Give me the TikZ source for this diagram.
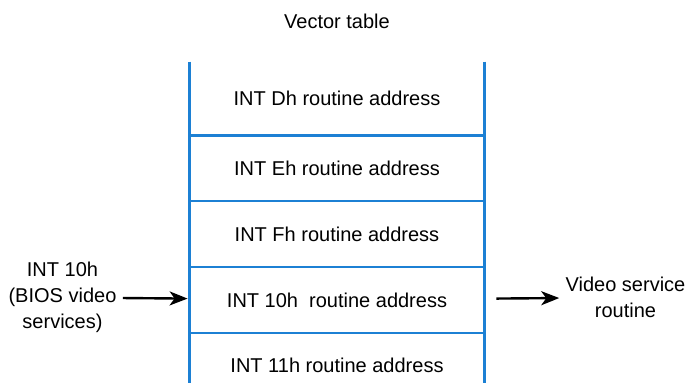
\documentclass[tikz,border=0pt]{standalone}
\usepackage{fontspec}
\setmainfont{Liberation Sans}
\usetikzlibrary{arrows.meta,positioning}
\definecolor{tableblue}{RGB}{28,128,212}

\begin{document}
\begin{tikzpicture}[
    x=0.5pt, y=-0.5pt,
    node distance=0pt,
    >={Stealth[length=9pt,width=7pt,inset=2.5pt]},
    every node/.style={font=\fontsize{10}{13}\selectfont},
    rowbox/.style={
        inner sep=0pt,
        minimum width=147pt,
        minimum height=32.5pt, % one slot of the table
        align=center
    },
    labelbox/.style={align=center, inner sep=3pt},
    tableline/.style={draw=tableblue, line width=1.2pt},
    arrow/.style={->, line width=1.2pt, draw=black}
]
\useasboundingbox (0,0) rectangle (690,383);

% Nodes
\node (title) at (337,21) {Vector table};
\node[rowbox, minimum height=36.5pt] (rowD) at (337,98.5) {INT Dh routine address};
\node[rowbox, below=of rowD] (rowE) {INT Eh routine address};
\node[rowbox, below=of rowE] (rowF) {INT Fh routine address};
\node[rowbox, below=of rowF] (rowTen) {INT 10h\ \ routine address};
\node[rowbox, below=of rowTen] (rowEleven) {INT 11h routine address};

\node[labelbox] (caller) at (62.5,297.5) {INT 10h\\(BIOS video\\services)};
\node[labelbox] (video) at (625.5,297.5) {Video service\\routine};

% Table frame
\draw[tableline] (rowD.north west) -- (rowEleven.south west);
\draw[tableline] (rowD.north east) -- (rowEleven.south east);
\foreach \r in {rowD,rowE,rowF,rowTen}
    \draw[tableline] (\r.south west) -- (\r.south east);

% Connections
\draw[arrow, shorten >=1pt] (caller) -- (rowTen);
\draw[arrow, shorten <=6pt] (rowTen) -- (video);

\end{tikzpicture}
\end{document}
